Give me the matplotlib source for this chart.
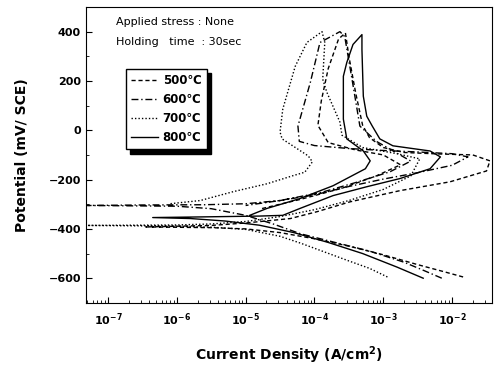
import numpy as np
import matplotlib
matplotlib.use("Agg")
import matplotlib.pyplot as plt

# log10 of current density (A/cm2) and potential (mV vs SCE)
# each curve: cathodic branch -> Ecorr -> anodic forward -> apex -> reverse scan
logi_500 = [-1.84, -2.1, -2.5, -3.0, -3.5, -4.0, -4.5, -5.0, -5.5, -6.45,
            -5.5, -5.0, -4.35, -3.96, -3.48, -2.76, -2.03, -1.5, -1.45,
            -1.7, -2.2, -2.7, -3.0, -3.2, -3.3, -3.4, -3.5, -3.55,
            -3.65, -3.8, -3.9, -3.95, -3.8, -3.4, -3.0, -2.75, -3.1, -3.6, -4.2, -4.8]
E_500 = [-595, -575, -545, -505, -470, -440, -415, -400, -395, -392,
         -386, -376, -358, -330, -290, -245, -209, -165, -124,
         -100, -96, -90, -70, -30, 20, 150, 300, 395,
         370, 250, 120, 20, -50, -80, -100, -140, -185, -235, -280, -320]

logi_600 = [-2.15, -2.4, -2.7, -3.2, -3.7, -4.2, -4.6, -5.0, -5.5, -6.0, -7.3,
            -6.5, -5.6, -5.0, -4.5, -4.0, -3.5, -3.0, -2.5, -2.0, -1.77,
            -2.0, -2.5, -3.0, -3.5, -4.0, -4.22, -4.24, -4.06, -3.92, -3.63,
            -3.56, -3.45, -3.34, -3.1, -2.85, -2.6, -2.9, -3.4, -3.9, -4.5, -5.0]
E_600 = [-600, -570, -535, -490, -455, -420, -380, -345, -318, -308, -305,
         -303, -302, -298, -285, -262, -228, -198, -172, -142, -108,
         -95, -88, -82, -74, -62, -45, 17, 194, 356, 400,
         380, 200, 17, -45, -85, -125, -168, -212, -252, -285, -305]

logi_700 = [-2.94, -3.2, -3.5, -4.2, -4.5, -5.0, -5.5, -6.0, -7.3,
            -6.0, -5.5, -5.0, -4.5, -4.0, -3.5, -3.0, -2.6, -2.47,
            -2.8, -3.3, -3.6, -3.63, -3.82, -3.88, -3.85, -3.89,
            -4.11, -4.28, -4.46, -4.5, -4.47, -4.09, -4.03, -4.14, -4.31, -4.69, -5.18, -5.66, -6.1]
E_700 = [-595, -560, -530, -458, -430, -402, -393, -389, -386,
         -384, -380, -370, -350, -322, -285, -240, -185, -116,
         -95, -70, -20, 33, 154, 207, 356, 400,
         356, 259, 86, -7, -35, -104, -128, -170, -184, -217, -249, -285, -298]

logi_800 = [-2.42, -2.8, -3.3, -3.8, -4.3, -4.8, -5.3, -5.8, -6.35,
            -5.8, -5.3, -4.8, -4.46, -4.21, -3.73, -3.24, -2.76, -2.32, -2.17,
            -2.32, -2.86, -3.05, -3.16, -3.24, -3.29, -3.31, -3.31,
            -3.44, -3.53, -3.58, -3.58, -3.53, -3.29, -3.19, -3.26, -3.73, -4.21, -4.69, -4.94]
E_800 = [-600, -555, -500, -455, -415, -385, -368, -358, -354,
         -352, -350, -348, -345, -317, -265, -229, -196, -156, -108,
         -84, -63, -35, 17, 57, 138, 327, 388,
         348, 275, 219, 45, -35, -84, -124, -156, -225, -277, -317, -345]

labels = ['500\u2103', '600\u2103', '700\u2103', '800\u2103']
styles = [(0, (3, 2)), (0, (5, 2, 1, 2)), (0, (1, 1.5)), '-']

fig = plt.figure(figsize=(4.94, 3.68), dpi=100)
ax = fig.add_axes([0.174, 0.177, 0.822, 0.804])

curves = [(logi_500, E_500), (logi_600, E_600), (logi_700, E_700), (logi_800, E_800)]
for (li, e), lab, ls in zip(curves, labels, styles):
    ax.plot(10 ** np.array(li), e, color='black', linestyle=ls, linewidth=1.0, label=lab)

ax.set_xscale('log')
ax.set_xlim(10 ** -7.32, 10 ** -1.42)
ax.set_ylim(-700, 500)
ax.set_yticks([-600, -400, -200, 0, 200, 400])
ax.set_yticks(np.arange(-700, 501, 100), minor=True)
ax.set_xticks([1e-7, 1e-6, 1e-5, 1e-4, 1e-3, 1e-2])
ax.tick_params(which='both', direction='in', labelsize=8)
ax.tick_params(which='major', length=4)
ax.tick_params(which='minor', length=2)
ax.tick_params(axis='x', pad=6)
for t in ax.get_xticklabels() + ax.get_yticklabels():
    t.set_fontweight('bold')

ax.set_xlabel('Current Density (A/cm$\\mathbf{^2}$)', fontsize=10, fontweight='bold', labelpad=12)
ax.set_ylabel('Potential (mV/ SCE)', fontsize=10, fontweight='bold', labelpad=14)

ax.text(0.074, 0.965, 'Applied stress : None', transform=ax.transAxes, fontsize=8, va='top')
ax.text(0.074, 0.898, 'Holding   time  : 30sec', transform=ax.transAxes, fontsize=8, va='top')

leg = ax.legend(loc='upper left', bbox_to_anchor=(0.083, 0.81), fontsize=8.5, frameon=True,
                fancybox=False, edgecolor='black', framealpha=1, borderpad=0.45,
                handlelength=2.3, labelspacing=0.5, handletextpad=0.4,
                shadow={'color': 'black', 'alpha': 1, 'ox': 3, 'oy': -3})
for t in leg.get_texts():
    t.set_fontweight('bold')

fig.savefig('out.png', dpi=100)
